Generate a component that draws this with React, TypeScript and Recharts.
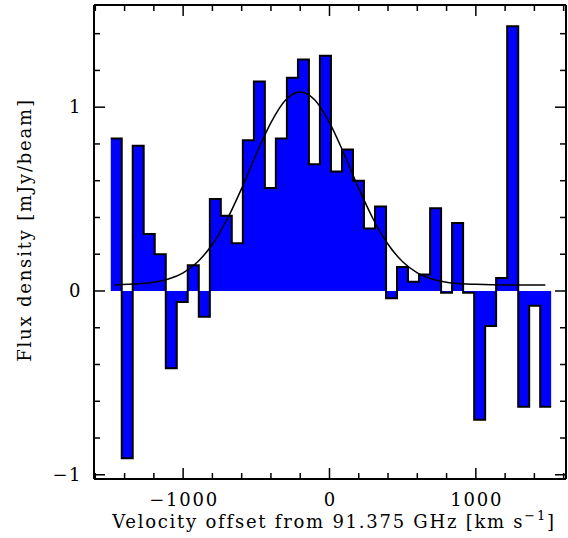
import React from 'react';
import { ComposedChart, Area, Line, XAxis, YAxis, Label } from 'recharts';

// channel centres (km/s) and flux per channel (mJy/beam)
const channelVelocity = [
  -1457, -1382, -1307, -1232, -1156, -1081, -1006, -931, -855, -780,
  -705, -630, -554, -479, -404, -329, -253, -178, -103, -28,
  48, 123, 198, 273, 349, 424, 499, 574, 650, 725,
  800, 875, 951, 1026, 1101, 1176, 1252, 1327, 1402, 1477,
];
const channelFlux = [
  0.83, -0.91, 0.79, 0.31, 0.2, -0.42, -0.06, 0.14, -0.14, 0.5,
  0.41, 0.26, 0.82, 1.14, 0.56, 0.83, 1.16, 1.26, 0.69, 1.28,
  0.65, 0.77, 0.6, 0.34, 0.46, -0.04, 0.13, 0.05, 0.09, 0.45,
  -0.01, 0.37, -0.01, -0.7, -0.19, 0.07, 1.44, -0.63, -0.08, -0.63,
];

// gaussian fit
const fitVelocity = [
  -1470, -1300, -1200, -1100, -1000, -900, -800, -700, -600, -500, -400, -300,
  -200, -100, 0, 100, 200, 300, 400, 500, 600, 700, 800, 900, 1000, 1200, 1475,
];
const fitFlux = [
  0.033, 0.039, 0.047, 0.065, 0.099, 0.159, 0.254, 0.389, 0.558, 0.745, 0.916, 1.039,
  1.083, 1.039, 0.916, 0.745, 0.558, 0.389, 0.254, 0.159, 0.099, 0.065, 0.047, 0.039, 0.036, 0.033, 0.033,
];

const xTicks = [-1600, -1400, -1200, -1000, -800, -600, -400, -200, 0, 200, 400, 600, 800, 1000, 1200, 1400, 1600];
const yTicks = [-1, -0.8, -0.6, -0.4, -0.2, 0, 0.2, 0.4, 0.6, 0.8, 1, 1.2, 1.4];

// step table: one point per channel left edge plus the closing right edge
const edges = channelVelocity.map((v, i) => {
  const next = channelVelocity[i + 1] ?? v + (v - channelVelocity[i - 1]);
  const prev = channelVelocity[i - 1] ?? v - (next - v);
  return (v + prev) / 2;
});
const last = channelVelocity.length - 1;
const stepData = [
  ...edges.map((e, i) => ({ v: e, flux: channelFlux[i] })),
  { v: channelVelocity[last] + (channelVelocity[last] - channelVelocity[last - 1]) / 2, flux: channelFlux[last] },
];
const fitData = fitVelocity.map((v, i) => ({ v, fit: fitFlux[i] }));

const FONT = '"DejaVu Serif", serif';
const isMajor = (n: number) => Math.abs(n - Math.round(n / 1000) * 1000) < 1e-6;
const isMajorY = (n: number) => Math.abs(n - Math.round(n)) < 1e-6;
const fmt = (n: number) => (n < 0 ? '\u2212' + Math.abs(n) : String(n));

const BottomTick = (props: any) => {
  const { x, y, payload } = props;
  const major = isMajor(payload.value);
  return (
    <g>
      <line x1={x} x2={x} y1={y} y2={y - (major ? 11 : 6)} stroke="#000" strokeWidth={1.5} />
      {major && payload.value > -1500 && payload.value < 1500 && (
        <text x={x + 1} y={y + 27} textAnchor="middle" fontFamily={FONT} fontSize={18} letterSpacing={1.8} fill="#000">
          {fmt(payload.value)}
        </text>
      )}
    </g>
  );
};

const TopTick = (props: any) => {
  const { x, y, payload } = props;
  const major = isMajor(payload.value);
  return <line x1={x} x2={x} y1={y} y2={y + (major ? 11 : 6)} stroke="#000" strokeWidth={1.5} />;
};

const LeftTick = (props: any) => {
  const { x, y, payload } = props;
  const major = isMajorY(payload.value);
  return (
    <g>
      <line x1={x} x2={x + (major ? 11 : 6)} y1={y} y2={y} stroke="#000" strokeWidth={1.5} />
      {major && (
        <text x={x - 12} y={y + 6} textAnchor="end" fontFamily={FONT} fontSize={18} letterSpacing={1.5} fill="#000">
          {fmt(payload.value)}
        </text>
      )}
    </g>
  );
};

const RightTick = (props: any) => {
  const { x, y, payload } = props;
  const major = isMajorY(payload.value);
  return <line x1={x} x2={x - (major ? 11 : 6)} y1={y} y2={y} stroke="#000" strokeWidth={1.5} />;
};

export default function App() {
  return (
    <div style={{ position: 'absolute', left: 0, top: 0 }}>
      <ComposedChart width={568} height={538} margin={{ top: 0, right: 0, bottom: 0, left: 0 }}>
        <XAxis
          xAxisId="b"
          type="number"
          dataKey="v"
          domain={[-1609, 1616]}
          allowDataOverflow
          ticks={xTicks}
          interval={0}
          height={59}
          tickSize={0}
          tickMargin={0}
          tickLine={false}
          tick={<BottomTick />}
          axisLine={{ stroke: '#000', strokeWidth: 2 }}
        >
          <Label
            content={() => (
              <text x={334} y={528} textAnchor="middle" fontFamily={FONT} fontSize={18} letterSpacing={1.75} fill="#000">
                Velocity offset from 91.375 GHz [km s
                <tspan fontSize={13} dy={-8}>{'\u22121'}</tspan>
                <tspan dy={8}>]</tspan>
              </text>
            )}
          />
        </XAxis>
        <XAxis
          xAxisId="t"
          orientation="top"
          type="number"
          dataKey="v"
          domain={[-1609, 1616]}
          allowDataOverflow
          ticks={xTicks}
          interval={0}
          height={5}
          tickSize={0}
          tickMargin={0}
          tickLine={false}
          tick={<TopTick />}
          axisLine={{ stroke: '#000', strokeWidth: 2 }}
        />
        <YAxis
          yAxisId="l"
          type="number"
          domain={[-1.023, 1.556]}
          allowDataOverflow
          ticks={yTicks}
          interval={0}
          width={94}
          tickSize={0}
          tickMargin={0}
          tickLine={false}
          tick={<LeftTick />}
          axisLine={{ stroke: '#000', strokeWidth: 2 }}
        >
          <Label
            content={() => (
              <text
                x={31}
                y={230}
                transform="rotate(-90, 31, 230)"
                textAnchor="middle"
                fontFamily={FONT}
                fontSize={18}
                letterSpacing={1.8}
                fill="#000"
              >
                Flux density [mJy/beam]
              </text>
            )}
          />
        </YAxis>
        <YAxis
          yAxisId="r"
          orientation="right"
          type="number"
          domain={[-1.023, 1.556]}
          allowDataOverflow
          ticks={yTicks}
          interval={0}
          width={2}
          tickSize={0}
          tickMargin={0}
          tickLine={false}
          tick={<RightTick />}
          axisLine={{ stroke: '#000', strokeWidth: 2 }}
        />
        <Area
          xAxisId="b"
          yAxisId="l"
          data={stepData}
          dataKey="flux"
          type="stepAfter"
          fill="#0000ff"
          fillOpacity={1}
          stroke="#000"
          strokeWidth={2}
          baseValue={0}
          dot={false}
          activeDot={false}
          isAnimationActive={false}
        />
        <Line
          xAxisId="b"
          yAxisId="l"
          data={fitData}
          dataKey="fit"
          type="monotone"
          stroke="#000"
          strokeWidth={1.5}
          dot={false}
          activeDot={false}
          isAnimationActive={false}
        />
      </ComposedChart>
    </div>
  );
}
